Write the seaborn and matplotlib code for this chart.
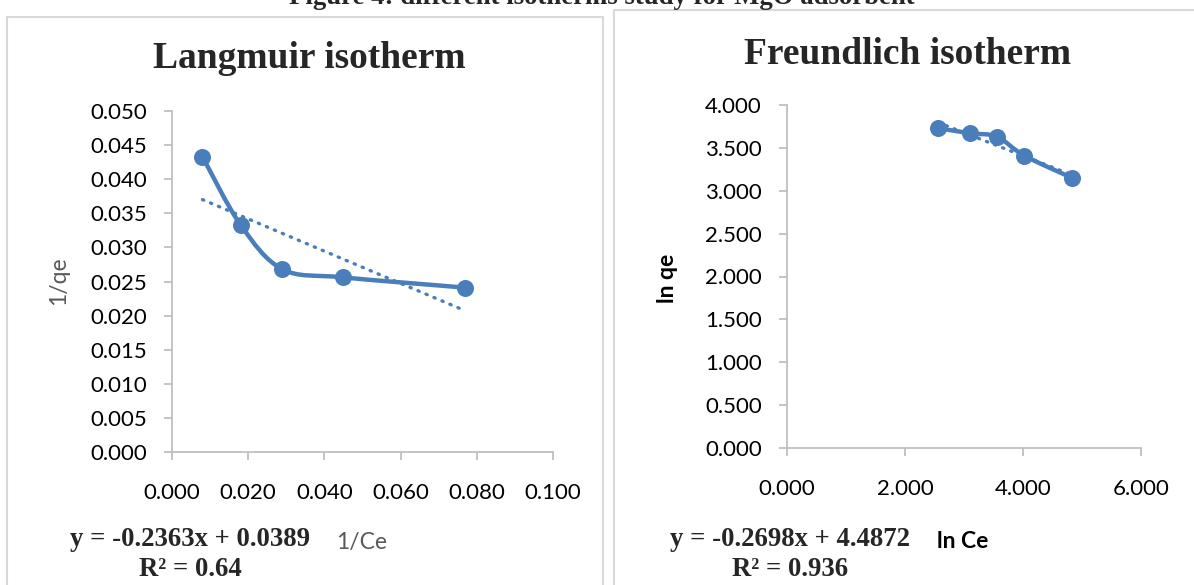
import numpy as np
import pandas as pd
import matplotlib
matplotlib.use("Agg")
import matplotlib.pyplot as plt
from matplotlib.path import Path
from matplotlib.patches import PathPatch, Rectangle
import seaborn as sns

# Data
langmuir_x = [0.008, 0.018, 0.029, 0.045, 0.077]        # 1/Ce
langmuir_y = [0.0433, 0.0333, 0.0268, 0.0256, 0.0241]   # 1/qe
langmuir_fit = [-0.2363, 0.0389]                        # slope, intercept
langmuir_r2 = "0.64"

freund_x = [2.56, 3.11, 3.56, 4.02, 4.83]               # ln Ce
freund_y = [3.73, 3.67, 3.63, 3.41, 3.15]               # ln qe
freund_fit = [-0.2698, 4.4872]
freund_r2 = "0.936"

BLUE = "#4a7ebb"
AXIS_GREY = "#bfbfbf"
W, H = 1194, 585

sns.set_theme(style="white")
plt.rcParams["font.family"] = ["Lato", "DejaVu Sans"]


def smooth_path(xs, ys):
    """Excel style smoothed line: cubic Bezier segments through the points."""
    p = np.column_stack([xs, ys])
    ext = np.vstack([p[0], p, p[-1]])
    verts = [p[0]]
    codes = [Path.MOVETO]
    for i in range(len(p) - 1):
        c1 = ext[i + 1] + (ext[i + 2] - ext[i]) / 6.0
        c2 = ext[i + 2] - (ext[i + 3] - ext[i + 1]) / 6.0
        verts += [c1, c2, ext[i + 2]]
        codes += [Path.CURVE4] * 3
    return Path(verts, codes)


def draw_panel(ax, xs, ys, fit, xlim, xstep, ylim, ystep):
    df = pd.DataFrame({"x": xs, "y": ys})
    ax.add_patch(PathPatch(smooth_path(xs, ys), facecolor="none",
                           edgecolor=BLUE, lw=3.2, capstyle="round",
                           joinstyle="round", zorder=3))
    sns.scatterplot(data=df, x="x", y="y", ax=ax, color=BLUE, s=150,
                    edgecolor=BLUE, linewidth=0, zorder=4)
    tx = [min(xs), max(xs)]
    tdf = pd.DataFrame({"x": tx, "y": [fit[0] * v + fit[1] for v in tx]})
    sns.lineplot(data=tdf, x="x", y="y", ax=ax, color=BLUE, lw=2.4,
                 linestyle=(0, (0.4, 2.2)), dash_capstyle="round", zorder=5)
    ax.set_xlim(*xlim)
    ax.set_ylim(*ylim)
    ax.set_xticks(np.arange(xlim[0], xlim[1] + xstep / 2, xstep))
    ax.set_yticks(np.arange(ylim[0], ylim[1] + ystep / 2, ystep))
    ax.xaxis.set_major_formatter(matplotlib.ticker.FormatStrFormatter("%.3f"))
    ax.yaxis.set_major_formatter(matplotlib.ticker.FormatStrFormatter("%.3f"))
    for s in ["top", "right"]:
        ax.spines[s].set_visible(False)
    for s in ["left", "bottom"]:
        ax.spines[s].set_color(AXIS_GREY)
        ax.spines[s].set_linewidth(1.3)
    ax.tick_params(axis="both", which="both", direction="out", length=6,
                   width=1.3, color=AXIS_GREY, labelsize=16,
                   labelcolor="#000000", left=True, bottom=True)
    ax.tick_params(axis="y", pad=12)
    ax.tick_params(axis="x", pad=16)
    ax.set_xlabel("")
    ax.set_ylabel("")
    ax.patch.set_alpha(0)


fig = plt.figure(figsize=(W / 100, H / 100), dpi=100)

# panel frames
fig.patches.append(Rectangle((7 / W, -0.05), (603 - 7) / W, (H - 17) / H + 0.05,
                             transform=fig.transFigure, fill=False,
                             edgecolor="#d9d9d9", lw=1.5))
fig.patches.append(Rectangle((614 / W, -0.05), 1.0, (H - 10) / H + 0.05,
                             transform=fig.transFigure, fill=False,
                             edgecolor="#d9d9d9", lw=1.5))

ax1 = fig.add_axes([172 / W, (H - 452) / H, (553 - 172) / W, (452 - 111) / H])
draw_panel(ax1, langmuir_x, langmuir_y, langmuir_fit, (0, 0.1), 0.02,
           (0, 0.05), 0.005)

ax2 = fig.add_axes([787 / W, (H - 448) / H, (1141 - 787) / W, (448 - 105) / H])
draw_panel(ax2, freund_x, freund_y, freund_fit, (0, 6), 2, (0, 4), 0.5)

serif = ["Liberation Serif", "DejaVu Serif"]

# caption of the figure, cut by the top edge as in the source
fig.text(602 / W, (H - 4) / H, "Figure 4: different isotherms study for MgO adsorbent",
         ha="center", va="baseline", fontsize=19.3, fontweight="bold", family=serif)

fig.text(309 / W, (H - 58) / H, "Langmuir isotherm", ha="center", va="center",
         fontsize=27, fontweight="bold", family=serif)
fig.text(908 / W, (H - 55) / H, "Freundlich isotherm", ha="center", va="center",
         fontsize=27, fontweight="bold", family=serif)

fig.text(59 / W, (H - 281) / H, "1/qe", rotation=90, ha="center", va="center",
         fontsize=16.5, color="#595959")
fig.text(668 / W, (H - 278) / H, "ln qe", rotation=90, ha="center", va="center",
         fontsize=16.5, fontweight="bold", color="#000000")
fig.text(362 / W, (H - 543) / H, "1/Ce", ha="center", va="center",
         fontsize=16.5, color="#595959")
fig.text(963 / W, (H - 541) / H, "ln Ce", ha="center", va="center",
         fontsize=16.5, fontweight="bold", color="#000000")

for cx, fit, r2 in [(190, langmuir_fit, langmuir_r2), (790, freund_fit, freund_r2)]:
    fig.text(cx / W, (H - 540) / H, "y = %.4fx + %.4f" % (fit[0], fit[1]),
             ha="center", va="center", fontsize=19.3, fontweight="bold",
             family=serif)
    fig.text(cx / W, (H - 569) / H, "R² = %s" % r2,
             ha="center", va="center", fontsize=19.3, fontweight="bold",
             family=serif)

fig.savefig("out.png", dpi=100, facecolor="white")
